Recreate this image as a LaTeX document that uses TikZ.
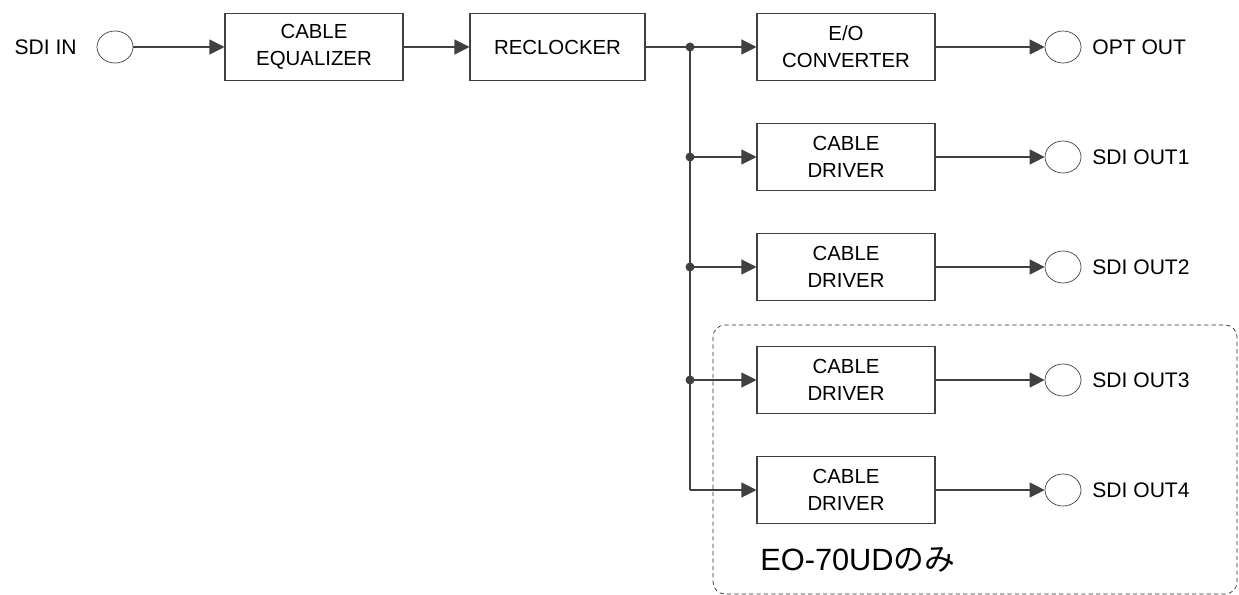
\documentclass[tikz,border=0pt]{standalone}
\usepackage{fontspec}
\setmainfont{Liberation Sans}
\newfontfamily\jpfont{Noto Sans CJK JP}
\usetikzlibrary{arrows.meta,shapes.geometric}
\definecolor{linegray}{HTML}{404040}
\begin{document}
\begin{tikzpicture}[boxstyle/.style={draw=linegray, semithick, align=center, minimum height=1.34cm, minimum width=3.56cm, text centered, font=\fontsize{11.6}{15.5}\selectfont},
  portstyle/.style={draw=linegray, thin, ellipse, inner sep=0pt, minimum width=0.72cm, minimum height=0.64cm},
  labelstyle/.style={font=\fontsize{12}{15}\selectfont, inner sep=0pt},
  sig/.style={draw=linegray, semithick, -{Triangle[length=0.3cm, width=0.3cm]}},
  dot/.style={circle, fill=linegray, inner sep=0pt, minimum size=0.18cm}]
  \useasboundingbox (0,0) rectangle (24.78,-11.9);

  % input chain
  \node [labelstyle, anchor=east] (SDIIn) at (1.54,-0.94) {SDI IN};
  \node [portstyle] (InPort) at (2.3,-0.94) {};
  \node [boxstyle] (Equalizer) at (6.28,-0.94) {CABLE\\EQUALIZER};
  \node [boxstyle, minimum width=3.5cm] (Reclocker) at (11.15,-0.94) {RECLOCKER};
  \draw [sig] (InPort.east) -- (Equalizer.west);
  \draw [sig] (Equalizer.east) -- (Reclocker.west);

  % outputs
  \node [boxstyle] (EOConv) at (16.92,-0.94) {E/O\\CONVERTER};
  \node [boxstyle] (Driver1) at (16.92,-3.14) {CABLE\\DRIVER};
  \node [boxstyle] (Driver2) at (16.92,-5.34) {CABLE\\DRIVER};
  \node [boxstyle] (Driver3) at (16.92,-7.6) {CABLE\\DRIVER};
  \node [boxstyle] (Driver4) at (16.92,-9.8) {CABLE\\DRIVER};

  \node [portstyle] (OptPort) at (21.26,-0.94) {};
  \node [portstyle] (OutPort1) at (21.26,-3.14) {};
  \node [portstyle] (OutPort2) at (21.26,-5.34) {};
  \node [portstyle] (OutPort3) at (21.26,-7.6) {};
  \node [portstyle] (OutPort4) at (21.26,-9.8) {};

  \node [labelstyle, anchor=west] (OptOut) at (21.84,-0.94) {OPT OUT};
  \node [labelstyle, anchor=west] (SDIOut1) at (21.84,-3.14) {SDI OUT1};
  \node [labelstyle, anchor=west] (SDIOut2) at (21.84,-5.34) {SDI OUT2};
  \node [labelstyle, anchor=west] (SDIOut3) at (21.84,-7.6) {SDI OUT3};
  \node [labelstyle, anchor=west] (SDIOut4) at (21.84,-9.8) {SDI OUT4};

  % distribution
  \node [dot] (J0) at (13.8,-0.94) {};
  \node [dot] (J1) at (13.8,-3.14) {};
  \node [dot] (J2) at (13.8,-5.34) {};
  \node [dot] (J3) at (13.8,-7.6) {};
  \coordinate (J4) at (13.8,-9.8);
  \draw [draw=linegray, semithick] (Reclocker.east) -- (J0.center);
  \draw [draw=linegray, semithick] (J0.center) -- (J4);
  \draw [sig] (J0.center) -- (EOConv.west);
  \draw [sig] (J1.center) -- (Driver1.west);
  \draw [sig] (J2.center) -- (Driver2.west);
  \draw [sig] (J3.center) -- (Driver3.west);
  \draw [sig] (J4) -- (Driver4.west);

  \draw [sig] (EOConv.east) -- (OptPort.west);
  \draw [sig] (Driver1.east) -- (OutPort1.west);
  \draw [sig] (Driver2.east) -- (OutPort2.west);
  \draw [sig] (Driver3.east) -- (OutPort3.west);
  \draw [sig] (Driver4.east) -- (OutPort4.west);

  % option frame
  \draw [draw=linegray!70!black, thin, dash pattern=on 2.4pt off 1.8pt, rounded corners=0.24cm] (14.26,-6.5) rectangle (24.74,-11.88);
  \node [anchor=west, inner sep=0pt, font=\fontsize{17.5}{20}\selectfont] (OptionNote) at (15.2,-11.2) {EO-70UD{\jpfont のみ}};
\end{tikzpicture}
\end{document}
